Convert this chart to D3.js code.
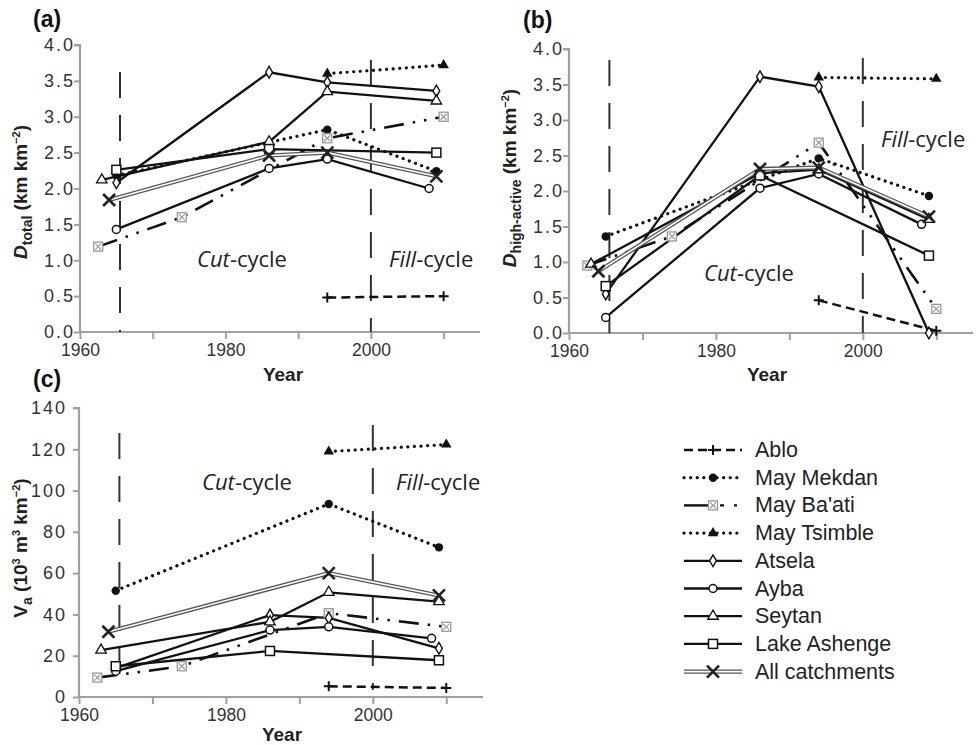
<!DOCTYPE html>
<html><head><meta charset="utf-8">
<script src="https://cdn.jsdelivr.net/npm/d3@7"></script>
<style>
body{margin:0;background:#fff}
text{font-family:"Liberation Sans",Arial,sans-serif}
</style>
</head><body>
<svg id="chart" width="976" height="745"></svg>
<script>
// ---------- DATA ----------
const seriesNames = ["Ablo","May Mekdan","May Ba'ati","May Tsimble","Atsela","Ayba","Seytan","Lake Ashenge","All catchments"];
const yTicksD = [0,0.5,1.0,1.5,2.0,2.5,3.0,3.5,4.0];
const yTicksV = [0,20,40,60,80,100,120,140];
const xTickLabels = [1960,1980,2000];
const xMinorTicks = [1970,1990,2010];
const cycleLines = [1965.5, 2000];

// panel (a) D_total
const ablo_total    = [[1994,0.48],[2010,0.50]];
const mekdan_total  = [[1965,2.18],[1994,2.82],[2009,2.24]];
const baati_total   = [[1962.5,1.19],[1974,1.60],[1994,2.70],[2010,3.00]];
const tsimble_total = [[1994,3.60],[2010,3.72]];
const atsela_total  = [[1965,2.08],[1986,3.62],[1994,3.48],[2009,3.36]];
const ayba_total    = [[1965,1.43],[1986,2.28],[1994,2.41],[2008,2.00]];
const seytan_total  = [[1963,2.12],[1986,2.65],[1994,3.35],[2009,3.22]];
const ashenge_total = [[1965,2.26],[1986,2.55],[2009,2.50]];
const all_total     = [[1964,1.84],[1986,2.46],[1994,2.50],[2009,2.17]];

// panel (b) D_high-active
const ablo_high    = [[1994,0.46],[2010,0.03]];
const mekdan_high  = [[1965,1.36],[1994,2.46],[2009,1.93]];
const baati_high   = [[1962.5,0.95],[1974,1.36],[1994,2.68],[2010,0.34]];
const tsimble_high = [[1994,3.60],[2010,3.58]];
const atsela_high  = [[1965,0.55],[1986,3.61],[1994,3.47],[2009,0.0]];
const ayba_high    = [[1965,0.22],[1986,2.04],[1994,2.24],[2008,1.53]];
const seytan_high  = [[1963,0.97],[1986,2.25],[1994,2.30],[2009,1.60]];
const ashenge_high = [[1965,0.66],[1986,2.22],[2009,1.09]];
const all_high     = [[1964,0.87],[1986,2.31],[1994,2.33],[2009,1.64]];

// panel (c) V_a
const ablo_va    = [[1994,5.2],[2010,4.4]];
const mekdan_va  = [[1965,51.5],[1994,93.5],[2009,72.5]];
const baati_va   = [[1962.5,9.4],[1974,14.9],[1994,40.6],[2010,34.0]];
const tsimble_va = [[1994,118.9],[2010,122.3]];
const atsela_va  = [[1965,14.0],[1986,39.7],[1994,38.3],[2009,23.6]];
const ayba_va    = [[1965,12.5],[1986,32.4],[1994,34.0],[2008,28.4]];
const seytan_va  = [[1963,22.7],[1986,36.4],[1994,50.7],[2009,46.2]];
const ashenge_va = [[1965,14.9],[1986,22.3],[2009,17.8]];
const all_va     = [[1964,31.6],[1994,60.0],[2009,49.2]];

// ---------- STYLES ----------
const styles = {
  "Ablo":          {line:"dash",   marker:"plus"},
  "May Mekdan":    {line:"dot",    marker:"dotfill"},
  "May Ba'ati":    {line:"dashdot",marker:"hourglass"},
  "May Tsimble":   {line:"dot",    marker:"trifill"},
  "Atsela":        {line:"solid",  marker:"diamond"},
  "Ayba":          {line:"solid",  marker:"circle"},
  "Seytan":        {line:"solid",  marker:"triopen"},
  "Lake Ashenge":  {line:"solid",  marker:"square"},
  "All catchments":{line:"double", marker:"x"}
};

const svg = d3.select("#chart");

function drawLine(g, pts, type){
  const gen = d3.line();
  if(type==="double"){
    g.append("path").attr("d",gen(pts)).attr("fill","none").attr("stroke","#555").attr("stroke-width",4.2);
    g.append("path").attr("d",gen(pts)).attr("fill","none").attr("stroke","#fff").attr("stroke-width",1.6);
    return;
  }
  const p = g.append("path").attr("d",gen(pts)).attr("fill","none").attr("stroke","#111");
  if(type==="solid") p.attr("stroke-width",2.3);
  if(type==="dash") p.attr("stroke-width",2.5).attr("stroke-dasharray","9,5");
  if(type==="dot") p.attr("stroke-width",3.2).attr("stroke-dasharray","0.1,6.5").attr("stroke-linecap","round");
  if(type==="dashdot") p.attr("stroke-width",2.6).attr("stroke-dasharray","20,9,2.5,9,2.5,9");
}

function drawMarker(g, x, y, type){
  const m = g.append("g").attr("transform",`translate(${x},${y})`);
  switch(type){
    case "plus":
      m.append("path").attr("d","M-5,0H5M0,-5V5").attr("stroke","#111").attr("stroke-width",2); break;
    case "dotfill":
      m.append("circle").attr("r",4.2).attr("fill","#111"); break;
    case "hourglass":
      m.append("rect").attr("x",-4.5).attr("y",-4.5).attr("width",9).attr("height",9).attr("fill","#fff").attr("stroke","#999").attr("stroke-width",1.3);
      m.append("path").attr("d","M-3,-3L3,3M3,-3L-3,3").attr("stroke","#999").attr("stroke-width",1.2); break;
    case "trifill":
      m.append("path").attr("d",d3.symbol(d3.symbolTriangle,48)()).attr("fill","#111"); break;
    case "diamond":
      m.append("path").attr("d",d3.symbol(d3.symbolDiamond,40)()).attr("fill","#fff").attr("stroke","#111").attr("stroke-width",1.4); break;
    case "circle":
      m.append("circle").attr("r",4).attr("fill","#fff").attr("stroke","#111").attr("stroke-width",1.5); break;
    case "triopen":
      m.append("path").attr("d",d3.symbol(d3.symbolTriangle,48)()).attr("fill","#fff").attr("stroke","#111").attr("stroke-width",1.3); break;
    case "square":
      m.append("rect").attr("x",-4.5).attr("y",-4.5).attr("width",9).attr("height",9).attr("fill","#fff").attr("stroke","#111").attr("stroke-width",1.5); break;
    case "x":
      m.append("path").attr("d","M-6,-6L6,6M6,-6L-6,6").attr("stroke","#222").attr("stroke-width",2.6); break;
  }
}

const panelA = {label:"(a)", lx:33, ly:27, x0:80, x1:480, yb:332, yt:45, ymax:4, ticks:yTicksD, fmt:d3.format(".1f"), pad:1,
  data:[ablo_total,mekdan_total,baati_total,tsimble_total,atsela_total,ayba_total,seytan_total,ashenge_total,all_total],
  vlines:[[72,332],[60,332]], cut:[197,267], fill:[389,267], title:"a", tx:27, ty:192, yearX:283, yearY:381};
const panelB = {label:"(b)", lx:523, ly:28, x0:569, x1:973, yb:333, yt:49, ymax:4, ticks:yTicksD, fmt:d3.format(".1f"), pad:1,
  data:[ablo_high,mekdan_high,baati_high,tsimble_high,atsela_high,ayba_high,seytan_high,ashenge_high,all_high],
  vlines:[[60,333],[58,333]], cut:[704,281], fill:[881,147], title:"b", tx:516, ty:178, yearX:767, yearY:381};
const panelC = {label:"(c)", lx:33, ly:387, x0:79, x1:483, yb:697, yt:408, ymax:140, ticks:yTicksV, fmt:d3.format("d"), pad:8,
  data:[ablo_va,mekdan_va,baati_va,tsimble_va,atsela_va,ayba_va,seytan_va,ashenge_va,all_va],
  vlines:[[433,690],[425,690]], cut:[202,490], fill:[396,490], title:"c", tx:27, ty:548, yearX:282, yearY:741};

function drawPanel(P){
  const x = d3.scaleLinear().domain([1960,2015]).range([P.x0,P.x1]);
  const y = d3.scaleLinear().domain([0,P.ymax]).range([P.yb,P.yt]);
  const g = svg.append("g");

  // axes
  const ax = g.append("g").attr("transform",`translate(0,${P.yb})`)
    .call(d3.axisBottom(x).tickValues(xTickLabels.concat(xMinorTicks)).tickSize(7).tickPadding(5)
      .tickFormat(d=>xTickLabels.includes(d)?d:""));
  const ay = g.append("g").attr("transform",`translate(${P.x0},0)`)
    .call(d3.axisLeft(y).tickValues(P.ticks).tickSize(6).tickPadding(P.pad).tickFormat(P.fmt));
  [ax,ay].forEach(a=>{
    a.select(".domain").attr("stroke","#a0a0a0").attr("stroke-width",2.2);
    a.selectAll(".tick line").attr("stroke","#a0a0a0").attr("stroke-width",2);
    a.selectAll(".tick text").attr("fill","#333").style("font-size","17.5px");
  });
  ay.selectAll(".tick text").style("font-size","18px").style("letter-spacing","2px").attr("dx","2px");
  ay.select(".domain").attr("d",`M-6,${P.yt}H0V${P.yb}`);
  ax.select(".domain").attr("d",`M${P.x0},0H${P.x1}`);

  // cycle dashed lines
  cycleLines.forEach((yr,i)=>{
    g.append("line").attr("x1",x(yr)).attr("x2",x(yr)).attr("y1",P.vlines[i][0]).attr("y2",P.vlines[i][1])
      .attr("stroke","#333").attr("stroke-width",2).attr("stroke-dasharray","26,17");
  });

  // texts
  const ct = g.append("text").attr("x",P.cut[0]).attr("y",P.cut[1]).style("font-family","'Open Sans',sans-serif").style("font-size","22px").attr("fill","#222");
  ct.append("tspan").style("font-style","italic").text("Cut");
  ct.append("tspan").text("-cycle");
  const ft = g.append("text").attr("x",P.fill[0]).attr("y",P.fill[1]).style("font-family","'Open Sans',sans-serif").style("font-size","22px").attr("fill","#222");
  ft.append("tspan").style("font-style","italic").text("Fill");
  ft.append("tspan").text("-cycle");

  // series
  seriesNames.forEach((name,i)=>{
    const st = styles[name];
    const pts = P.data[i].map(d=>[x(d[0]),y(d[1])]);
    drawLine(g, pts, st.line);
  });
  seriesNames.forEach((name,i)=>{
    const st = styles[name];
    P.data[i].forEach(d=>drawMarker(g, x(d[0]), y(d[1]), st.marker));
  });

  // labels
  svg.append("text").attr("x",P.lx).attr("y",P.ly).style("font-size","23px").style("font-weight","bold").attr("fill","#111").text(P.label);
  svg.append("text").attr("x",P.yearX).attr("y",P.yearY).attr("text-anchor","middle")
    .style("font-size","19px").style("font-weight","bold").attr("fill","#222").text("Year");

  const t = svg.append("text").attr("transform",`translate(${P.tx},${P.ty}) rotate(-90)`).attr("text-anchor","middle")
    .style("font-size","19px").style("font-weight","bold").attr("fill","#222");
  if(P.title==="a"){
    t.append("tspan").style("font-style","italic").text("D");
    t.append("tspan").attr("dy",5).style("font-size","14px").text("total");
    t.append("tspan").attr("dy",-5).text(" (km km");
    t.append("tspan").attr("dy",-7).style("font-size","11px").text("−2");
    t.append("tspan").attr("dy",7).text(")");
  } else if(P.title==="b"){
    t.append("tspan").style("font-style","italic").text("D");
    t.append("tspan").attr("dy",5).style("font-size","14px").text("high-active");
    t.append("tspan").attr("dy",-5).text(" (km km");
    t.append("tspan").attr("dy",-7).style("font-size","11px").text("−2");
    t.append("tspan").attr("dy",7).text(")");
  } else {
    t.append("tspan").text("V");
    t.append("tspan").attr("dy",5).style("font-size","14px").text("a");
    t.append("tspan").attr("dy",-5).text(" (10");
    t.append("tspan").attr("dy",-7).style("font-size","11px").text("3");
    t.append("tspan").attr("dy",7).text(" m");
    t.append("tspan").attr("dy",-7).style("font-size","11px").text("3");
    t.append("tspan").attr("dy",7).text(" km");
    t.append("tspan").attr("dy",-7).style("font-size","11px").text("−2");
    t.append("tspan").attr("dy",7).text(")");
  }
}

[panelA,panelB,panelC].forEach(drawPanel);

// legend
const lg = svg.append("g");
seriesNames.forEach((name,i)=>{
  const st = styles[name];
  const cy = 450 + i*27.7;
  const gi = lg.append("g");
  if(name==="May Ba'ati"){
    gi.append("line").attr("x1",684).attr("x2",712).attr("y1",cy).attr("y2",cy).attr("stroke","#111").attr("stroke-width",2.4);
    gi.append("path").attr("d",`M720,${cy}H724M734,${cy}H737`).attr("stroke","#111").attr("stroke-width",2.4);
  } else {
    drawLine(gi, [[684,cy],[742,cy]], st.line);
  }
  drawMarker(gi, 713, cy, st.marker);
  lg.append("text").attr("x",755).attr("y",cy+7).style("font-size","21.5px").attr("fill","#222").text(name);
});
</script>
</body></html>
